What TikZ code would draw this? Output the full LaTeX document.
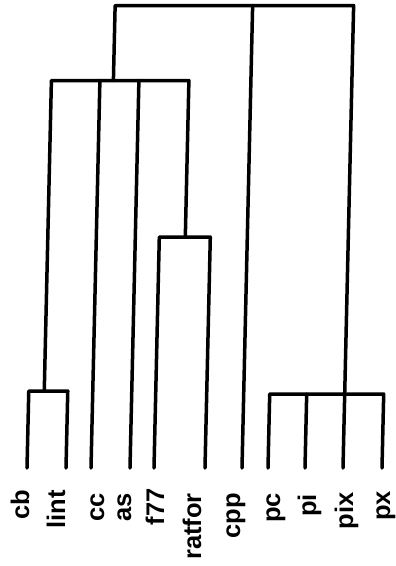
\documentclass[tikz,border=0pt]{standalone}
\usepackage{fontspec}
\setmainfont{Liberation Sans}
\tikzset{
  link/.style={line width=3.5pt, line cap=round, line join=round},
  lbl/.style={rotate=90, anchor=base east, inner sep=0pt,
              font=\bfseries\fontsize{25.5}{25.5}\selectfont}
}
\begin{document}
\begin{tikzpicture}[x=1pt,y=-1pt]
\useasboundingbox (0,0) rectangle (396,566);
\begin{scope}[xshift=10.76pt, xslant=0.023]
  % leaves
  \coordinate (cb) at (27,468);
  \coordinate (lint) at (66,468);
  \coordinate (cc) at (91,468);
  \coordinate (as) at (130,468);
  \coordinate (f77) at (154,468);
  \coordinate (ratfor) at (205,468);
  \coordinate (cpp) at (242,468);
  \coordinate (pc) at (268,468);
  \coordinate (pi) at (305,468);
  \coordinate (pix) at (343,468);
  \coordinate (px) at (382,468);
  % joins
  \coordinate (j1) at (42.5,391);
  \coordinate (j2) at (180,237);
  \coordinate (j3) at (343,394);
  \coordinate (j4) at (104.5,80.5);
  \coordinate (top) at (0,5.5);
  % cb-lint
  \draw[link] (cb) |- (lint |- j1) -- (lint);
  % f77-ratfor
  \draw[link] (f77) |- (ratfor |- j2) -- (ratfor);
  % pc pi pix px
  \draw[link] (pc) |- (px |- j3) -- (px);
  \draw[link] (pi) -- (pi |- j3);
  % left cluster
  \draw[link] (j1) -- (j1 |- j4) -- (j2 |- j4) -- (j2);
  \draw[link] (cc) -- (cc |- j4);
  \draw[link] (as) -- (as |- j4);
  % top
  \draw[link] (j4) -- (j4 |- top) -- (pix |- top) -- (pix);
  \draw[link] (cpp) -- (cpp |- top);
\end{scope}
% labels
\node[lbl] (Lcb) at (29,490) {cb};
\node[lbl] (Llint) at (65,490) {lint};
\node[lbl] (Lcc) at (104,493) {cc};
\node[lbl] (Las) at (131,493) {as};
\node[lbl] (Lf77) at (164,488) {f77};
\node[lbl] (Lratfor) at (201,493) {ratfor};
\node[lbl] (Lcpp) at (240,493) {cpp};
\node[lbl] (Lpc) at (280,493) {pc};
\node[lbl] (Lpi) at (316,494) {pi};
\node[lbl] (Lpix) at (353,492) {pix};
\node[lbl] (Lpx) at (390,491) {px};
\end{tikzpicture}
\end{document}
